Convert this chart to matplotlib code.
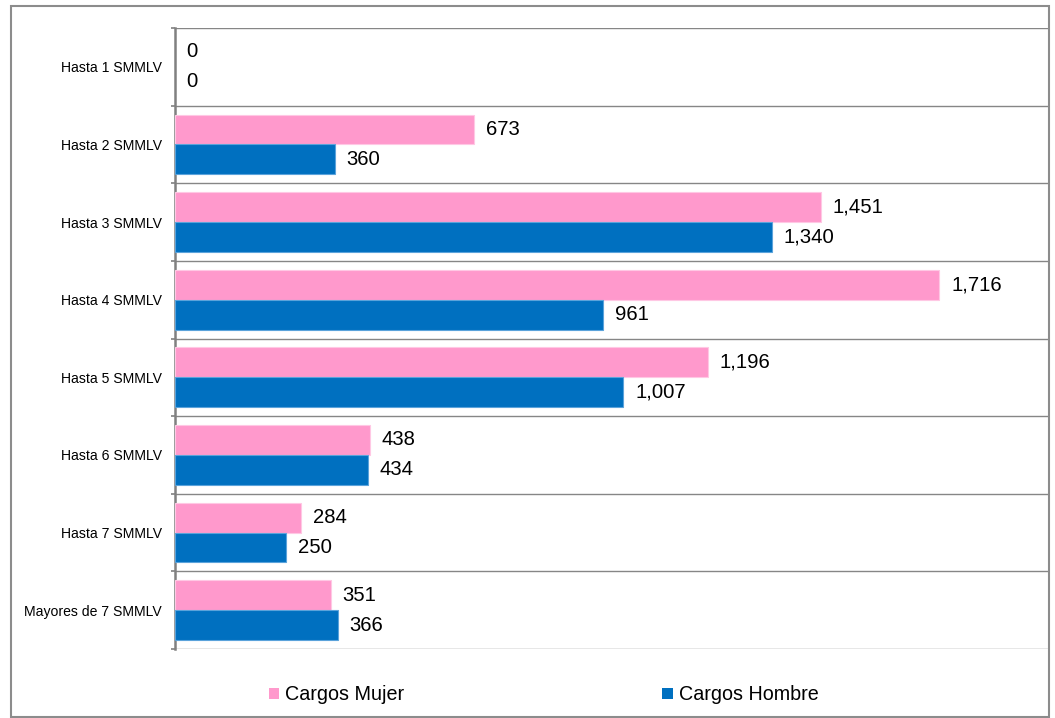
import matplotlib
matplotlib.use("Agg")
import matplotlib.pyplot as plt
import numpy as np
from matplotlib.patches import Rectangle, Patch

plt.rcParams['font.family'] = ['Liberation Sans', 'DejaVu Sans']

categories = ["Hasta 1 SMMLV", "Hasta 2 SMMLV", "Hasta 3 SMMLV", "Hasta 4 SMMLV",
              "Hasta 5 SMMLV", "Hasta 6 SMMLV", "Hasta 7 SMMLV", "Mayores de 7 SMMLV"]
mujer = [0, 673, 1451, 1716, 1196, 438, 284, 351]
hombre = [0, 360, 1340, 961, 1007, 434, 250, 366]
series_names = ["Cargos Mujer", "Cargos Hombre"]
pink = "#FF99CC"
blue = "#0070C0"

W, H = 1055, 718
fig = plt.figure(figsize=(W / 100, H / 100), dpi=100)

# outer border
fig.patches.append(Rectangle((10.5 / W, 1 - 716.5 / H), (1048.5 - 10.5) / W, (716.5 - 6) / H,
                             transform=fig.transFigure, fill=False, edgecolor="#8c8c8c",
                             linewidth=1.5))

left, right, top, bottom = 174.5, 1048, 28, 649
ax = fig.add_axes([left / W, 1 - bottom / H, (right - left) / W, (bottom - top) / H])

n = len(categories)
y = np.arange(n)
h = 0.385
b1 = ax.barh(y - h / 2, mujer, height=h, color=pink, edgecolor="#FFC8E4",
             linewidth=[0.8 if v > 0 else 0 for v in mujer], zorder=3)
b2 = ax.barh(y + h / 2, hombre, height=h, color=blue, edgecolor="#5BA3DB",
             linewidth=[0.8 if v > 0 else 0 for v in hombre], zorder=3)

for bars, vals in ((b1, mujer), (b2, hombre)):
    for rect, v in zip(bars, vals):
        ax.annotate(f"{v:,}", xy=(v, rect.get_y() + rect.get_height() / 2),
                    xytext=(8.5, 0), textcoords="offset points", ha="left", va="center",
                    fontsize=14.6, color="#000000")

ax.set_xlim(0, 1960)
ax.set_ylim(n - 0.5, -0.5)
ax.set_xticks([])
ax.set_yticks(y)
ax.set_yticklabels(categories, fontsize=10.1)
ax.tick_params(axis="y", which="major", length=0, pad=9)
ax.set_yticks(np.arange(-0.5, n, 1.0), minor=True)
ax.tick_params(axis="y", which="minor", length=3, width=1.2, color="#808080")
ax.grid(axis="y", which="minor", color="#868686", linewidth=1.0, zorder=0)
for s in ("top", "right", "bottom"):
    ax.spines[s].set_visible(False)
ax.spines["left"].set_color("#808080")
ax.spines["left"].set_linewidth(1.8)

handles = [Patch(facecolor=pink, edgecolor="none"), Patch(facecolor=blue, edgecolor="none")]
fig.legend(handles, series_names, loc="center", bbox_to_anchor=(543.5 / W, 1 - 695 / H),
           ncol=2, frameon=False, fontsize=14.2, handlelength=0.55, handleheight=0.55,
           handletextpad=0.3, columnspacing=13.05)

fig.savefig("out.png", dpi=100)
